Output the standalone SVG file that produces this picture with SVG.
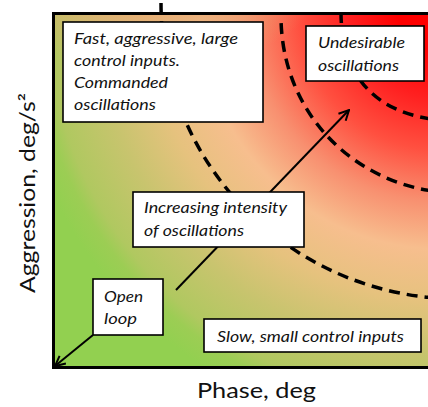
<svg xmlns="http://www.w3.org/2000/svg" width="428" height="407" viewBox="0 0 428 407">
  <style>
    .box { fill: #ffffff; stroke: #000000; stroke-width: 1.6; }
    .lbl { font-family: Lato, "Open Sans", "Liberation Sans", sans-serif; font-style: italic; font-size: 16px; fill: #111111; }
    .axis { font-family: Lato, "Open Sans", "Liberation Sans", sans-serif; font-size: 21px; fill: #111111; }
    .arc { fill: none; stroke: #000000; stroke-width: 3.5; stroke-dasharray: 11 7; }
    .conn { fill: none; stroke: #000000; stroke-width: 2; }
  </style>
  <defs>
    <radialGradient id="bg" gradientUnits="userSpaceOnUse" cx="440" cy="8" r="430">
      <stop offset="0" stop-color="#ff0000"/>
      <stop offset="0.1" stop-color="#ff0000"/>
      <stop offset="0.21" stop-color="#ff2020"/>
      <stop offset="0.33" stop-color="#ff5040"/>
      <stop offset="0.45" stop-color="#f89070"/>
      <stop offset="0.56" stop-color="#f7be8e"/>
      <stop offset="0.68" stop-color="#e6c27e"/>
      <stop offset="0.8" stop-color="#c8c46e"/>
      <stop offset="0.915" stop-color="#b0c860"/>
      <stop offset="0.95" stop-color="#9ccd54"/>
      <stop offset="1" stop-color="#92d050"/>
    </radialGradient>
    <radialGradient id="tint" gradientUnits="userSpaceOnUse" cx="150" cy="-15" r="85" gradientTransform="translate(150,-15) scale(2,1) translate(-150,15)">
      <stop offset="0" stop-color="#eea070" stop-opacity="0.9"/>
      <stop offset="0.45" stop-color="#e4aa74" stop-opacity="0.65"/>
      <stop offset="1" stop-color="#e0b070" stop-opacity="0"/>
    </radialGradient>
    <marker id="arrow" viewBox="0 0 12 12" refX="11" refY="6" markerWidth="12" markerHeight="12" markerUnits="userSpaceOnUse" orient="auto">
      <path d="M1,1 L11,6 L1,11" fill="none" stroke="#000000" stroke-width="2"/>
    </marker>
  </defs>

  <g id="plot">
    <rect x="53.5" y="13.5" width="390" height="354" fill="url(#bg)"/>
    <rect x="53.5" y="13.5" width="390" height="354" fill="url(#tint)"/>
  </g>

  <g id="zones">
    <path class="arc" d="M161,3 C161,168 295,299 460,299"/>
    <path class="arc" style="stroke-dashoffset:11" d="M281,16 C281,118 362,193 460,193"/>
    <path class="arc" d="M341,12 C341,75 375,121 460,121"/>
  </g>

  <g id="frame" fill="none" stroke="#000000" stroke-width="3">
    <path d="M440,13.5 L53.5,13.5 L53.5,367.5 L440,367.5"/>
  </g>

  <g id="connectors">
    <line class="conn" x1="176" y1="290" x2="349" y2="110" marker-end="url(#arrow)"/>
    <line class="conn" x1="93" y1="335" x2="55" y2="366" marker-end="url(#arrow)"/>
  </g>

  <g id="fast">
    <rect class="box" x="63" y="22" width="200" height="100"/>
    <text class="lbl" x="74" y="44" textLength="164" lengthAdjust="spacingAndGlyphs">Fast, aggressive, large</text>
    <text class="lbl" x="74" y="66" textLength="106" lengthAdjust="spacingAndGlyphs">control inputs.</text>
    <text class="lbl" x="74" y="88" textLength="94" lengthAdjust="spacingAndGlyphs">Commanded</text>
    <text class="lbl" x="74" y="110" textLength="82" lengthAdjust="spacingAndGlyphs">oscillations</text>
  </g>

  <g id="undesirable">
    <rect class="box" x="306" y="26" width="118" height="55"/>
    <text class="lbl" x="318" y="48" textLength="87" lengthAdjust="spacingAndGlyphs">Undesirable</text>
    <text class="lbl" x="318" y="71" textLength="81" lengthAdjust="spacingAndGlyphs">oscillations</text>
  </g>

  <g id="increasing">
    <rect class="box" x="133" y="192" width="171" height="55"/>
    <text class="lbl" x="144" y="213" textLength="143" lengthAdjust="spacingAndGlyphs">Increasing intensity</text>
    <text class="lbl" x="144" y="236" textLength="100" lengthAdjust="spacingAndGlyphs">of oscillations</text>
  </g>

  <g id="openloop">
    <rect class="box" x="93" y="279" width="70" height="56"/>
    <text class="lbl" x="104" y="302" textLength="39" lengthAdjust="spacingAndGlyphs">Open</text>
    <text class="lbl" x="104" y="324" textLength="33" lengthAdjust="spacingAndGlyphs">loop</text>
  </g>

  <g id="slow">
    <rect class="box" x="204" y="319" width="217" height="33"/>
    <text class="lbl" x="217" y="342" textLength="187" lengthAdjust="spacingAndGlyphs">Slow, small control inputs</text>
  </g>

  <g id="axes">
    <text class="axis" x="197" y="398" textLength="119" lengthAdjust="spacingAndGlyphs">Phase, deg</text>
    <text class="axis" transform="translate(35,293) rotate(-90)" x="0" y="0" textLength="200" lengthAdjust="spacingAndGlyphs">Aggression, deg/s²</text>
  </g>
</svg>
